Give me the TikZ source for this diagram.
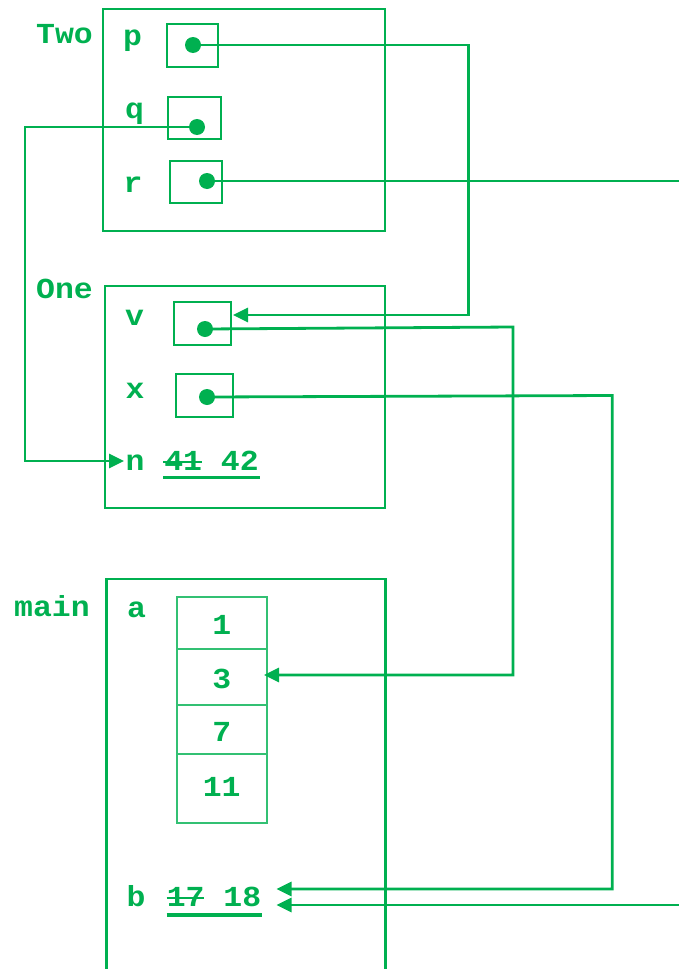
\documentclass[tikz,border=0pt]{standalone}
\usepackage{fontspec}
\newfontfamily\cour{Liberation Mono}
\usetikzlibrary{arrows.meta}
\definecolor{gr}{RGB}{0,176,80}
\newcommand{\widetxt}[1]{\scalebox{1.085}[1]{#1}}
\begin{document}
\begin{tikzpicture}[x=1pt,y=-1pt,
  frame/.style={draw=gr,line width=2.9pt},
  ptr/.style={draw=gr,line width=2.8pt,inner sep=0pt},
  cell/.style={draw=gr!80,line width=1.8pt,inner sep=0pt,minimum width=90pt},
  dotn/.style={circle,fill=gr,inner sep=0pt,minimum size=16pt},
  lbl/.style={text=gr,font=\cour\bfseries\fontsize{29}{30}\selectfont,inner sep=0pt,anchor=base},
  conn/.style={draw=gr,line width=2.8pt},
  arr/.style={conn,-{Triangle[length=15pt,width=14pt]}},
  strk/.style={draw=gr,line width=2.2pt},
  uline/.style={draw=gr,line width=3.4pt}]
\useasboundingbox (0,0) rectangle (679,969);
% frames
\node[frame,minimum width=282pt,minimum height=222pt,inner sep=0pt] (two) at (244,120) {};
\node[frame,minimum width=280pt,minimum height=222pt,inner sep=0pt] (one) at (245,397) {};
\draw[frame] (106.7,972) -- (106.7,579) -- (385.5,579) -- (385.5,972);
% frame labels
\node[lbl] (twol) at (64.5,43) {\widetxt{Two}};
\node[lbl] (onel) at (64.5,298) {\widetxt{One}};
\node[lbl] (mainl) at (52,616) {\widetxt{main}};
% Two
\node[lbl] (pl) at (132.5,45) {\widetxt{p}};
\node[lbl] (ql) at (134.5,118.5) {\widetxt{q}};
\node[lbl] (rl) at (133,192) {\widetxt{r}};
\node[ptr,minimum width=51pt,minimum height=43pt] (pbox) at (192.5,45.5) {};
\node[ptr,minimum width=53pt,minimum height=42pt] (qbox) at (194.5,118) {};
\node[ptr,minimum width=52pt,minimum height=42pt] (rbox) at (196,182) {};
\node[dotn] (pd) at (193,45) {};
\node[dotn] (qd) at (197,127) {};
\node[dotn] (rd) at (207,181) {};
% One
\node[lbl] (vl) at (134.5,325) {\widetxt{v}};
\node[lbl] (xl) at (135,398) {\widetxt{x}};
\node[lbl] (nl) at (135,470) {\widetxt{n}};
\node[ptr,minimum width=57pt,minimum height=43pt] (vbox) at (202.5,323.5) {};
\node[ptr,minimum width=57pt,minimum height=43pt] (xbox) at (204.5,395.5) {};
\node[dotn] (vd) at (205,329) {};
\node[dotn] (xd) at (207,397) {};
\node[lbl] (nval) at (211.5,470) {\widetxt{41 42}};
\draw[strk] (163,461.7) -- (202,461.7);
\draw[uline] (163,477.7) -- (260,477.7);
% main
\node[lbl] (al) at (136.5,617) {\widetxt{a}};
\node[cell,minimum height=52.3pt] (c1) at (221.7,622.85) {};
\node[cell,minimum height=56pt] (c2) at (221.7,677) {};
\node[cell,minimum height=49.3pt] (c3) at (221.7,729.65) {};
\node[cell,minimum height=68.4pt] (c4) at (221.7,788.5) {};
\node[lbl] at (221.7,634.3) {\widetxt{1}};
\node[lbl] at (221.7,688.3) {\widetxt{3}};
\node[lbl] at (221.7,741.7) {\widetxt{7}};
\node[lbl] at (221.7,796.7) {\widetxt{11}};
\node[lbl] (bl) at (136,906) {\widetxt{b}};
\node[lbl] (bval) at (214,906) {\widetxt{17 18}};
\draw[strk] (166.7,898.3) -- (204,898.3);
\draw[uline] (166.7,915) -- (261.7,915);
% connectors
\coordinate (pturn) at (468.5,315);
\coordinate (vtip) at (233,315);
\draw[arr] (pd.center) -| (pturn) -- (vtip);
\coordinate (qturn) at (25,461);
\coordinate (ntip) at (124,461);
\draw[arr] (qd.center) -| (qturn) -- (ntip);
\coordinate (rend) at (679,181);
\draw[conn] (rd.center) -- (rend);
\coordinate (vturn1) at (513,327);
\coordinate (vturn2) at (513,675);
\coordinate (atip) at (264,675);
\draw[arr] (vd.center) -- (vturn1) -- (vturn2) -- (atip);
\coordinate (xturn1) at (612.3,395.5);
\coordinate (xturn2) at (612.3,889);
\coordinate (btip1) at (276.5,889);
\draw[arr] (xd.center) -- (xturn1) -- (xturn2) -- (btip1);
\coordinate (bend) at (679,905);
\coordinate (btip2) at (276.5,905);
\draw[arr] (bend) -- (btip2);
\end{tikzpicture}
\end{document}
